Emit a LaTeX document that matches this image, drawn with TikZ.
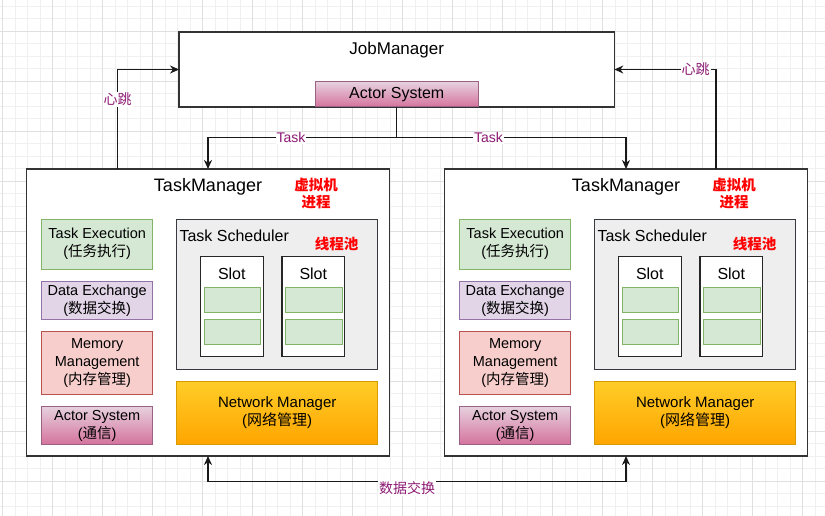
\documentclass[tikz,border=0pt]{standalone}
\usepackage{fontspec}
\setmainfont{Liberation Sans}
\newfontfamily\cjk{Noto Sans CJK SC}
\usetikzlibrary{arrows.meta}
\definecolor{lblc}{HTML}{8C1A73}
\definecolor{gx}{HTML}{82B366}\definecolor{gf}{HTML}{D5E8D4}
\definecolor{px}{HTML}{9673A6}\definecolor{pf}{HTML}{E1D5E7}
\definecolor{rx}{HTML}{B85450}\definecolor{rf}{HTML}{F8CECC}
\definecolor{mx}{HTML}{996185}\definecolor{mt}{HTML}{E6D0DE}\definecolor{mb}{HTML}{D5739D}
\definecolor{ox}{HTML}{D79B00}\definecolor{ot}{HTML}{FFCD28}\definecolor{ob}{HTML}{FFA500}
\definecolor{sx}{HTML}{36393D}\definecolor{sf}{HTML}{EEEEEE}
\tikzset{
  every node/.style={inner sep=0pt, outer sep=0pt},
  frame/.style={draw=black!80, line width=1.3pt, fill=white},
  greenbox/.style={draw=gx, fill=gf, line width=1pt, align=center},
  purplebox/.style={draw=px, fill=pf, line width=1pt, align=center},
  redbox/.style={draw=rx, fill=rf, line width=1pt, align=center},
  pinkbox/.style={draw=mx, top color=mt, bottom color=mb, line width=1pt, align=center},
  orangebox/.style={draw=ox, top color=ot, bottom color=ob, line width=1pt, align=center},
  schedbox/.style={draw=sx, fill=sf, line width=1.3pt},
  slotbox/.style={draw=black!85, fill=white, line width=1.3pt},
  cellbox/.style={draw=gx, fill=gf, line width=1pt},
  innerfont/.style={font=\fontsize{14.5}{18}\selectfont},
  bigtitle/.style={font=\fontsize{18}{22}\selectfont},
  midtitle/.style={font=\fontsize{16}{19}\selectfont},
  redlbl/.style={font=\fontsize{14.5}{17}\selectfont\bfseries\cjk, text=red, align=center},
  lbl/.style={font=\fontsize{14}{16}\selectfont, text=lblc, fill=white, inner sep=1pt},
  arr/.style={line width=1.5pt, draw=black!90, -{Stealth[length=9pt,width=8pt]}},
  darr/.style={line width=1.5pt, draw=black!90, {Stealth[length=9pt,width=8pt]}-{Stealth[length=9pt,width=8pt]}},
  gminor/.style={draw=black!6, line width=0.6pt},
  gmajor/.style={draw=black!12, line width=0.8pt},
}
\newcommand\tmcontent{%
  \node[frame, minimum width=362.6pt, minimum height=287pt] (box) at (208,312.5) {};
  \node[bigtitle] (title) at (208,187) {TaskManager};
  \node[redlbl] (vm) at (316,193.5) {虚拟机\\进程};
  \node[greenbox, innerfont, minimum width=111pt, minimum height=50.3pt] (exec) at (97.2,244.2) {Task Execution\\({\cjk 任务执行})};
  \node[purplebox, innerfont, minimum width=111pt, minimum height=37.6pt] (dex) at (97.2,300.5) {Data Exchange\\({\cjk 数据交换})};
  \node[redbox, innerfont, minimum width=111pt, minimum height=62.6pt] (mem) at (97.2,363) {Memory\\Management\\({\cjk 内存管理})};
  \node[pinkbox, innerfont, minimum width=111pt, minimum height=37.6pt] (act) at (97.2,425.5) {Actor System\\({\cjk 通信})};
  \node[schedbox, minimum width=201pt, minimum height=150pt] (sched) at (277.2,294.3) {};
  \node[midtitle, anchor=west] (schedt) at (179.5,236) {Task Scheduler};
  \node[redlbl] (pool) at (336.7,244) {线程池};
  \node[slotbox, minimum width=63pt, minimum height=100pt] (slotA) at (231.8,306.7) {};
  \node[midtitle] (slotAt) at (231.8,274) {Slot};
  \node[cellbox, minimum width=56.7pt, minimum height=25pt] (cellA1) at (232.6,300.2) {};
  \node[cellbox, minimum width=56.7pt, minimum height=25pt] (cellA2) at (232.6,331.5) {};
  \node[slotbox, minimum width=62.7pt, minimum height=100pt] (slotB) at (313.3,306.7) {};
  \node[midtitle] (slotBt) at (313.3,274) {Slot};
  \node[cellbox, minimum width=56.7pt, minimum height=25pt] (cellB1) at (314.2,300.2) {};
  \node[cellbox, minimum width=56.7pt, minimum height=25pt] (cellB2) at (314.2,331.5) {};
  \node[orangebox, font=\fontsize{15}{18}\selectfont, minimum width=201pt, minimum height=63.3pt] (net) at (277.2,412.7) {Network Manager\\({\cjk 网络管理})};
}
\begin{document}
\begin{tikzpicture}[x=1pt, y=-1pt]
  \useasboundingbox (0,0) rectangle (825,516);
  \fill[white] (0,0) rectangle (825,516);
  \foreach \gx in {0,...,65} {\draw[gminor] (2.3+12.5*\gx,0) -- (2.3+12.5*\gx,516);}
  \foreach \gy in {0,...,41} {\draw[gminor] (0,6+12.5*\gy) -- (825,6+12.5*\gy);}
  \foreach \gx in {0,...,16} {\draw[gmajor] (2.3+50*\gx,0) -- (2.3+50*\gx,516);}
  \foreach \gy in {0,...,10} {\draw[gmajor] (0,31+50*\gy) -- (825,31+50*\gy);}

  % JobManager
  \node[frame, minimum width=435.3pt, minimum height=75pt] (jm) at (396.7,69.5) {};
  \node[font=\fontsize{17}{20}\selectfont] (jmt) at (396.7,50) {JobManager};
  \node[pinkbox, font=\fontsize{16}{19}\selectfont, minimum width=163.3pt, minimum height=25pt] (jmactor) at (396.7,94.5) {Actor System};

  \begin{scope}[name prefix=tmA-]
    \tmcontent
  \end{scope}
  \begin{scope}[shift={(418,0)}, name prefix=tmB-]
    \tmcontent
  \end{scope}

  % Task connectors
  \coordinate (tsplit) at (396.7,137.7);
  \draw[arr] (jmactor.south) -- (tsplit) -| (tmA-box.north) node[lbl, pos=0.28] (taskA) {Task};
  \draw[arr] (jmactor.south) -- (tsplit) -| (tmB-box.north) node[lbl, pos=0.2] (taskB) {Task};

  % heartbeats
  \coordinate (hbA) at (117.7,169);
  \coordinate (hbB) at (716,169);
  \draw[arr] (hbA) |- (jm.west) node[lbl, pos=0.35] (hbAl) {\cjk 心跳};
  \draw[arr] (hbB) |- (jm.east) node[lbl, pos=0.6] (hbBl) {\cjk 心跳};

  % data exchange
  \coordinate (dxc) at (407,481.7);
  \draw[darr] (tmA-box.south) |- (dxc) -| (tmB-box.south);
  \node[lbl, font=\fontsize{14}{16}\selectfont\cjk] (dxl) at (407,488.5) {数据交换};
\end{tikzpicture}
\end{document}
